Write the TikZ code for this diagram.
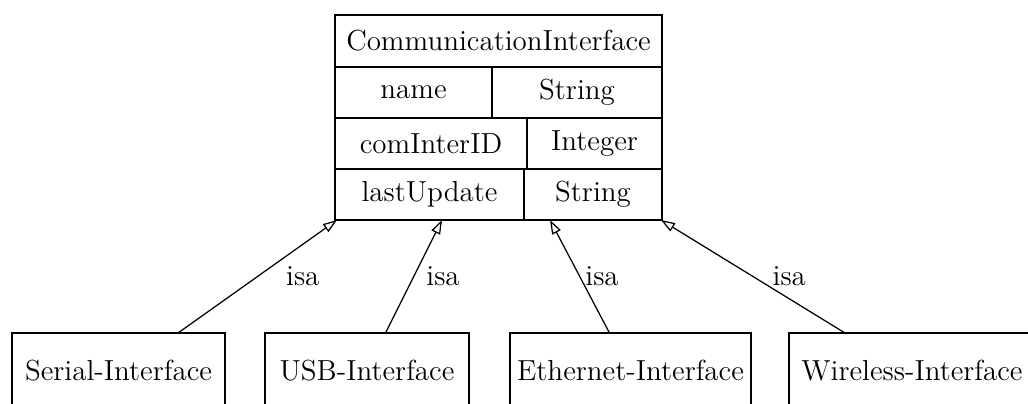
\documentclass[tikz,border=0pt]{standalone}
\usetikzlibrary{arrows.meta}
\usetikzlibrary{positioning}
\tikzset{cell/.style={draw,line width=0.5pt,inner sep=0pt,outer sep=0pt,minimum height=20.4pt},
         classbox/.style={draw,line width=0.5pt,inner sep=0pt,outer sep=0pt,anchor=north west,minimum height=30pt},
         isa/.style={-{Triangle[open,length=5.6pt,width=3.8pt]},line width=0.5pt},
         isalabel/.style={inner sep=0pt,anchor=west},
         }
\begin{document}
\begin{tikzpicture}[x=0.4pt,y=-0.4pt,font=\fontsize{11.6}{13}\selectfont]
\useasboundingbox (0,0) rectangle (1028,403);
\node[cell,anchor=north west,minimum width=130.8pt,minimum height=20.8pt] (comm) at (335,15) {CommunicationInterface};
\node[cell,minimum width=62.8pt,below right=0pt and 0pt of comm.south west] (nameA) {name};
\node[cell,minimum width=68pt,right=0pt of nameA] (nameT) {String};
\node[cell,minimum width=76.8pt,below right=0pt and 0pt of nameA.south west] (idA) {comInterID};
\node[cell,minimum width=54pt,right=0pt of idA] (idT) {Integer};
\node[cell,minimum width=75.6pt,below right=0pt and 0pt of idA.south west] (lastA) {lastUpdate};
\node[cell,minimum width=55.2pt,right=0pt of lastA] (lastT) {String};
\node[classbox,minimum width=85.2pt] (serial) at (12,333) {Serial-Interface};
\node[classbox,minimum width=81.6pt] (usb) at (265,333) {USB-Interface};
\node[classbox,minimum width=96.4pt] (eth) at (510,333) {Ethernet-Interface};
\node[classbox,minimum width=98.4pt] (wless) at (789,333) {Wireless-Interface};
\draw[isa] ([xshift=23.8pt]serial.north) -- ([xshift=0.8pt]lastA.south west)
  node[isalabel,pos=0.5,xshift=11.2pt] {isa};
\draw[isa] ([xshift=7.4pt]usb.north) -- ([xshift=5pt]lastA.south)
  node[isalabel,pos=0.5,xshift=4.8pt] {isa};
\draw[isa] ([xshift=-8.4pt]eth.north) -- ([xshift=-17.2pt]lastT.south)
  node[isalabel,pos=0.5,xshift=2pt] {isa};
\draw[isa] ([xshift=-26.8pt]wless.north) -- ([xshift=-0.4pt]lastT.south east)
  node[isalabel,pos=0.5,xshift=7.6pt] {isa};
\end{tikzpicture}
\end{document}
